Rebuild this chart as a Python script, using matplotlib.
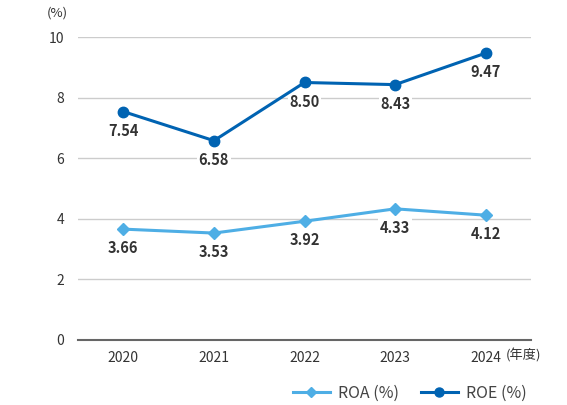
import matplotlib.pyplot as plt
from matplotlib.lines import Line2D

plt.rcParams['font.family'] = ['Noto Sans CJK JP', 'DejaVu Sans']

years = ['2020', '2021', '2022', '2023', '2024']
roa = [3.66, 3.53, 3.92, 4.33, 4.12]
roe = [7.54, 6.58, 8.50, 8.43, 9.47]
roa_color = '#4eaee5'
roe_color = '#0063b2'
text_color = '#333333'

fig = plt.figure(figsize=(5.67, 4.05), dpi=100)
ax = fig.add_axes([0.1376, 0.1605, 0.799, 0.748])

x = list(range(len(years)))
ax.plot(x, roa, color=roa_color, lw=2.2, marker='D', ms=6.5, zorder=3)
ax.plot(x, roe, color=roe_color, lw=2.2, marker='o', ms=7.5, zorder=3)

for series in (roa, roe):
    for xi, v in zip(x, series):
        ax.annotate(f'{v:.2f}', (xi, v), xytext=(0, -8), textcoords='offset points',
                    ha='center', va='top', fontsize=10.5, fontweight='bold', color=text_color,
                    bbox=dict(boxstyle='square,pad=0.1', fc='white', ec='none'), zorder=2)

ax.set_xlim(-0.5, 4.5)
ax.set_ylim(0, 10)
ax.set_yticks([0, 2, 4, 6, 8, 10])
ax.set_xticks(x)
ax.set_xticklabels(years)
ax.grid(axis='y', color='#cccccc', lw=1)
ax.set_axisbelow(True)
for s in ['top', 'right', 'left']:
    ax.spines[s].set_visible(False)
ax.spines['bottom'].set_color('#666666')
ax.spines['bottom'].set_linewidth(1.5)
ax.tick_params(axis='both', length=0, labelsize=10, colors=text_color, pad=8)
ax.tick_params(axis='y', pad=10)

fig.text(47 / 567, 1 - 13 / 405, '(%)', fontsize=9.5, color=text_color, ha='left', va='center')
fig.text(506 / 567, 1 - 356 / 405, '(年度)', fontsize=9.5, color=text_color, ha='left', va='center')

handles = [
    Line2D([], [], color=roa_color, lw=2.2, marker='D', ms=5.5),
    Line2D([], [], color=roe_color, lw=2.2, marker='o', ms=6.5),
]
fig.legend(handles, ['ROA (%)', 'ROE (%)'], loc='center right', bbox_to_anchor=(0.94, 1 - 393 / 405),
           ncol=2, frameon=False, fontsize=11.5, handlelength=2.3, columnspacing=1.4,
           handletextpad=0.5, labelcolor='#444444', borderaxespad=0)

fig.savefig('out.png', dpi=100)
